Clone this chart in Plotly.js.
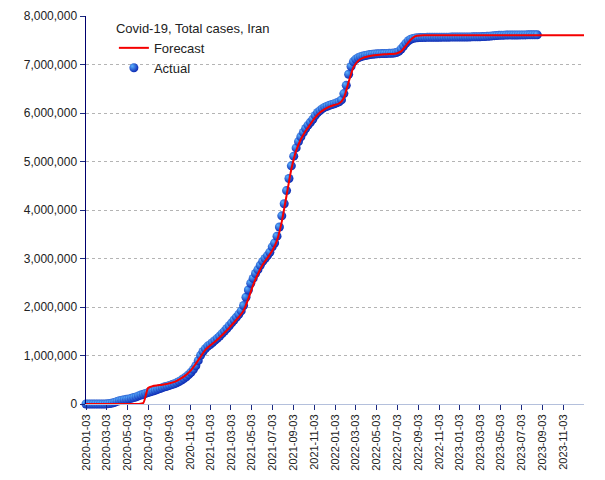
<!DOCTYPE html>
<html>
<head>
<meta charset="utf-8">
<script src="https://cdn.plot.ly/plotly-3.0.1.min.js"></script>
<style>
html,body{margin:0;padding:0;background:#fff;}
#chart{width:605px;height:480px;}
</style>
</head>
<body>
<div id="chart"></div>
<script>
// ---- data ----
const chartTitle = "Covid-19, Total cases, Iran";
const seriesNames = ["Forecast", "Actual"];

// Actual: weekly observations starting 2020-01-03
const actualStart = "2020-01-03";
const actualStepDays = 7;
const actualValues = [
  0, 0, 0, 0, 0, 0, 0, 18, 388, 4747,
  11364, 19644, 32332, 53183, 68192, 79494, 88194, 95646, 104691, 116635,
  131652, 146668, 167156, 184955, 200262, 217724, 235429, 250458, 267061, 284034,
  301530, 320117, 336324, 354764, 367796, 382772, 399940, 416198, 436319, 464596,
  492378, 526490, 562705, 604952, 654936, 715068, 788000, 894000, 1003000, 1083000,
  1141000, 1194000, 1225000, 1268000, 1311000, 1354000, 1400000, 1452000, 1504000, 1556000,
  1613000, 1672000, 1731000, 1790000, 1848000, 1920000, 2030000, 2200000, 2350000, 2490000,
  2590000, 2690000, 2770000, 2860000, 2940000, 3000000, 3060000, 3130000, 3240000, 3320000,
  3460000, 3650000, 3880000, 4130000, 4400000, 4650000, 4910000, 5110000, 5280000, 5410000,
  5510000, 5600000, 5680000, 5750000, 5810000, 5870000, 5950000, 6010000, 6050000, 6090000,
  6120000, 6140000, 6160000, 6175000, 6190000, 6210000, 6230000, 6270000, 6400000, 6570000,
  6800000, 6960000, 7060000, 7110000, 7140000, 7160000, 7175000, 7185000, 7195000, 7205000,
  7212000, 7217000, 7220000, 7223000, 7225000, 7227000, 7229000, 7231000, 7233000, 7237000,
  7245000, 7270000, 7320000, 7380000, 7440000, 7490000, 7520000, 7538000, 7548000, 7553000,
  7556000, 7558000, 7559000, 7560000, 7560000, 7561000, 7561000, 7562000, 7562000, 7563000,
  7563000, 7564000, 7564000, 7565000, 7565000, 7566000, 7566000, 7567000, 7567000, 7568000,
  7568000, 7569000, 7570000, 7571000, 7572000, 7573000, 7575000, 7577000, 7580000, 7584000,
  7589000, 7594000, 7598000, 7601000, 7603000, 7605000, 7606000, 7607000, 7608000, 7608000,
  7609000, 7609000, 7610000, 7610000, 7610000, 7611000, 7611000, 7611000, 7612000, 7612000
];

// Forecast: bi-weekly values starting 2020-01-03
const forecastStart = "2020-01-03";
const forecastStepDays = 14;
const forecastValues = [
  0, 0, 0, 0, 0, 0, 0, 0, 0, 0,
  0, 0, 20000, 330000, 370000, 385000, 398000, 415000, 440000, 478000,
  535000, 605000, 700000, 830000, 975000, 1115000, 1205000, 1285000, 1370000, 1468000,
  1570000, 1680000, 1790000, 1925000, 2170000, 2450000, 2680000, 2870000, 3010000, 3160000,
  3370000, 3760000, 4300000, 4840000, 5220000, 5460000, 5630000, 5770000, 5910000, 6010000,
  6080000, 6130000, 6165000, 6195000, 6310000, 6640000, 6940000, 7075000, 7135000, 7165000,
  7185000, 7198000, 7207000, 7213000, 7218000, 7226000, 7270000, 7390000, 7510000, 7585000,
  7600000, 7602000, 7603000, 7603000, 7604000, 7604000, 7604000, 7605000, 7605000, 7605000,
  7605000, 7605000, 7605000, 7605000, 7605000, 7605000, 7605000, 7605000, 7605000, 7605000,
  7605000, 7605000, 7605000, 7605000, 7605000, 7605000, 7605000, 7605000, 7605000, 7605000,
  7605000, 7605000, 7605000, 7605000, 7605000, 7605000
];

const xRange = ["2020-01-03", "2024-01-02"];
const xTickStart = "2020-01-03";
const yRange = [0, 8000000];

// ---- build date categories ----
function dateSeries(start, stepDays, n) {
  const out = [];
  const t0 = Date.parse(start + "T00:00:00Z");
  for (let i = 0; i < n; i++) {
    const d = new Date(t0 + i * stepDays * 86400000);
    out.push(d.toISOString().slice(0, 10));
  }
  return out;
}
const actualDates = dateSeries(actualStart, actualStepDays, actualValues.length);
const forecastDates = dateSeries(forecastStart, forecastStepDays, forecastValues.length);

const FONT = "Liberation Sans, Arial, sans-serif";

const traces = [
  {
    type: "scatter",
    mode: "markers",
    name: seriesNames[1],
    x: actualDates,
    y: actualValues,
    cliponaxis: false,
    marker: {
      size: 9,
      color: "#0014a8",                                  // outer edge
      gradient: { type: "radial", color: "#5cb4ff" },    // centre highlight
      line: { width: 0 }
    }
  },
  {
    type: "scatter",
    mode: "lines",
    name: seriesNames[0],
    x: forecastDates,
    y: forecastValues,
    cliponaxis: false,
    line: { color: "#f50000", width: 2, shape: "spline", smoothing: 0.6 }
  }
];

const layout = {
  width: 605,
  height: 480,
  margin: { l: 86, r: 21, t: 16, b: 76, pad: 0 },
  paper_bgcolor: "#ffffff",
  plot_bgcolor: "#ffffff",
  font: { family: FONT, size: 12, color: "#222222" },
  showlegend: true,
  legend: {
    x: 0.056, y: 1.0, xanchor: "left", yanchor: "top",
    bgcolor: "rgba(255,255,255,0)",
    borderwidth: 0,
    traceorder: "reversed",
    font: { family: FONT, size: 13, color: "#222222" },
    title: { text: chartTitle, font: { family: FONT, size: 13, color: "#222222" } },
    tracegroupgap: 0,
    itemwidth: 30
  },
  xaxis: {
    type: "date",
    range: xRange,
    tick0: xTickStart,
    dtick: "M2",
    tickformat: "%Y-%m-%d",
    tickangle: -90,
    ticks: "outside",
    ticklen: 5,
    tickwidth: 1,
    tickcolor: "#1c2a80",
    showline: true,
    linecolor: "#b4c0dc",
    linewidth: 1,
    showgrid: false,
    zeroline: false,
    tickfont: { family: FONT, size: 11, color: "#222222" }
  },
  yaxis: {
    range: yRange,
    dtick: 1000000,
    tickformat: ",d",
    ticks: "outside",
    ticklen: 5,
    tickwidth: 1,
    tickcolor: "#1c2a80",
    showline: true,
    linecolor: "#00006e",
    linewidth: 1.5,
    showgrid: true,
    gridcolor: "#b4b4b4",
    griddash: "3px,3px",
    gridwidth: 1,
    zeroline: false,
    tickfont: { family: FONT, size: 12, color: "#222222" }
  }
};

Plotly.newPlot("chart", traces, layout, { displayModeBar: false, staticPlot: true }).then(function (gd) {
  // move the highlight of the sphere-like markers toward the upper-left
  gd.querySelectorAll("radialGradient").forEach(function (g) {
    g.setAttribute("cx", "0.42");
    g.setAttribute("cy", "0.42");
    g.setAttribute("fx", "0.3");
    g.setAttribute("fy", "0.3");
    g.setAttribute("r", "0.7");
  });
});
</script>
</body>
</html>
